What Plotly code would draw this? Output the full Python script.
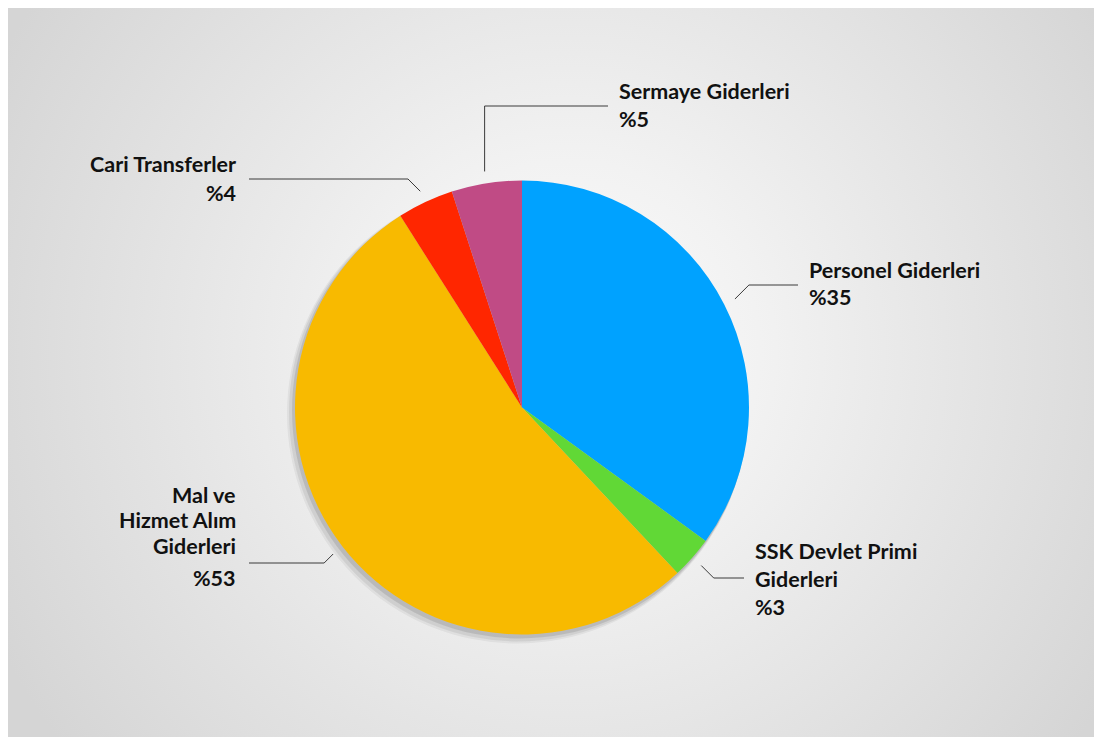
import base64
import math

import plotly.graph_objects as go

# Data
labels = [
    "Personel Giderleri",
    "SSK Devlet Primi Giderleri",
    "Mal ve Hizmet Alım Giderleri",
    "Cari Transferler",
    "Sermaye Giderleri",
]
values = [35, 3, 53, 4, 5]
colors = ["#00A2FF", "#61D836", "#F8BA00", "#FF2600", "#C04B85"]

# How each label is broken into lines on the chart
label_lines = [
    ["Personel Giderleri"],
    ["SSK Devlet Primi", "Giderleri"],
    ["Mal ve", "Hizmet Alım", "Giderleri"],
    ["Cari Transferler"],
    ["Sermaye Giderleri"],
]

# The page body has an 8px margin, so the figure starts at (8, 8) in the window
PAGE_OFF = 8
W, H = 1102, 737
CX, CY, R = 522, 407.5, 227  # pie centre / radius in window pixels

# Label placement (window pixels): text x, side, first baseline, line height, leader y, bend
label_pos = [
    {"x": 807, "side": "right", "base": 277, "lh": 28, "ly": 285, "bend": "diag"},
    {"x": 753, "side": "right", "base": 558, "lh": 28, "ly": 578, "bend": "diag"},
    {"x": 238, "side": "left", "base": 502, "lh": 25.5, "ly": 563, "bend": "diag", "gap": 7},
    {"x": 238, "side": "left", "base": 172, "lh": 28, "ly": 179, "bend": "diag"},
    {"x": 617, "side": "right", "base": 99, "lh": 27, "ly": 106, "bend": "vert"},
]

FONT = "Lato"
FS = 21.5


def px(x):
    return (x - PAGE_OFF) / W


def py(y):
    return 1 - (y - PAGE_OFF) / H


def pie_domain(cx, cy, r):
    return {"x": [px(cx - r), px(cx + r)], "y": [py(cy + r), py(cy - r)]}


# Radial-gradient backdrop as an inline SVG (figure pixel space)
svg = (
    f'<svg xmlns="http://www.w3.org/2000/svg" width="{W}" height="{H}">'
    '<defs><radialGradient id="g" gradientUnits="userSpaceOnUse" '
    'cx="560" cy="345" r="640">'
    '<stop offset="0" stop-color="#fcfcfc"/>'
    '<stop offset="0.3" stop-color="#f2f2f2"/>'
    '<stop offset="1" stop-color="#d5d5d5"/>'
    '</radialGradient></defs>'
    f'<rect x="0" y="0" width="1086" height="{H}" fill="url(#g)"/>'
    '</svg>'
)
bg_src = "data:image/svg+xml;base64," + base64.b64encode(svg.encode()).decode()

fig = go.Figure()

# Soft drop shadow behind the pie
for dx, dy, dr, alpha in [(-5, 6, 3, 0.05), (-4, 5, 2, 0.07), (-2, 3, 1, 0.10)]:
    fig.add_trace(go.Pie(
        values=[1],
        marker={"colors": [f"rgba(0,0,0,{alpha})"], "line": {"width": 0}},
        domain=pie_domain(CX + dx, CY + dy, R + dr),
        textinfo="none",
        hoverinfo="skip",
        showlegend=False,
        sort=False,
    ))

fig.add_trace(go.Pie(
    labels=labels,
    values=values,
    marker={"colors": colors, "line": {"width": 0}},
    domain=pie_domain(CX, CY, R),
    sort=False,
    direction="clockwise",
    rotation=0,
    textinfo="none",
    hovertemplate="%{label}: %%{value}<extra></extra>",
    showlegend=False,
))

# Leader lines and labels, anchored on each slice's mid-angle
total = sum(values)
cum = 0
shapes = []
annotations = []
for val, lines, pos in zip(values, label_lines, label_pos):
    mid = (cum + val / 2) / total * 2 * math.pi
    cum += val
    sx = CX + (R + 12) * math.sin(mid)
    sy = CY - (R + 12) * math.cos(mid)
    sgn = 1 if pos["side"] == "right" else -1
    if pos["bend"] == "vert":
        ex = sx
    else:
        ex = sx + sgn * abs(pos["ly"] - sy)
    ey = pos["ly"]
    end_x = pos["x"] - 9 if sgn > 0 else pos["x"] + 11
    path = f"M {px(sx)} {py(sy)} L {px(ex)} {py(ey)} L {px(end_x)} {py(ey)}"
    shapes.append({
        "type": "path", "path": path, "xref": "paper", "yref": "paper",
        "line": {"color": "#3a3a3a", "width": 1},
    })

    rows = lines + [f"%{val}"]
    for i, row in enumerate(rows):
        base = pos["base"] + i * pos["lh"]
        if i == len(rows) - 1 and "gap" in pos:
            base += pos["gap"]
        annotations.append({
            "text": row,
            "x": px(pos["x"]),
            "y": py(base - 7.5),
            "xref": "paper",
            "yref": "paper",
            "xanchor": "left" if sgn > 0 else "right",
            "yanchor": "middle",
            "align": "left" if sgn > 0 else "right",
            "showarrow": False,
            "font": {"family": FONT, "size": FS, "color": "#111111", "weight": 700},
        })

fig.update_layout(
    width=W,
    height=H,
    margin={"t": 0, "b": 0, "l": 0, "r": 0},
    paper_bgcolor="#ffffff",
    plot_bgcolor="rgba(0,0,0,0)",
    images=[{
        "source": bg_src,
        "xref": "paper", "yref": "paper",
        "x": 0, "y": 1, "sizex": 1, "sizey": 1,
        "sizing": "stretch", "layer": "below",
        "xanchor": "left", "yanchor": "top",
    }],
    shapes=shapes,
    annotations=annotations,
    showlegend=False,
)

fig.write_html("out.html")
